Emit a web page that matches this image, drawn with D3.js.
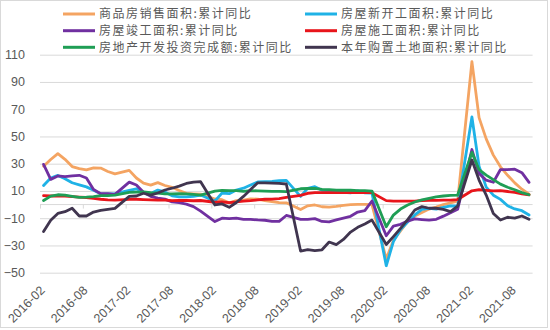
<!DOCTYPE html>
<html><head><meta charset="utf-8">
<script src="https://cdn.jsdelivr.net/npm/d3@7"></script>
<style>
html,body{margin:0;padding:0;background:#fff;}
svg{display:block;}
</style>
</head><body>
<svg id="chart" width="550" height="330"></svg>
<script>
// ---- Data (cumulative YoY %, Feb..Dec each year; January is merged into February) ----
const months = [
 "2016-02","2016-03","2016-04","2016-05","2016-06","2016-07","2016-08","2016-09","2016-10","2016-11","2016-12",
 "2017-02","2017-03","2017-04","2017-05","2017-06","2017-07","2017-08","2017-09","2017-10","2017-11","2017-12",
 "2018-02","2018-03","2018-04","2018-05","2018-06","2018-07","2018-08","2018-09","2018-10","2018-11","2018-12",
 "2019-02","2019-03","2019-04","2019-05","2019-06","2019-07","2019-08","2019-09","2019-10","2019-11","2019-12",
 "2020-02","2020-03","2020-04","2020-05","2020-06","2020-07","2020-08","2020-09","2020-10","2020-11","2020-12",
 "2021-02","2021-03","2021-04","2021-05","2021-06","2021-07","2021-08","2021-09","2021-10"
];
const tickLabels = ["2016-02","2016-08","2017-02","2017-08","2018-02","2018-08","2019-02","2019-08","2020-02","2020-08","2021-02","2021-08"];
const yTicks = [-50,-30,-10,10,30,50,70,90,110];

const seriesNames = ["商品房销售面积:累计同比","房屋新开工面积:累计同比","房屋竣工面积:累计同比","房屋施工面积:累计同比","房地产开发投资完成额:累计同比","本年购置土地面积:累计同比"];
const seriesColors = ["#F4A462","#1FB2E6","#7030A0","#E8151B","#1F9E55","#40354F"];

const salesArea = [28.2,33.1,37.4,33.2,27.9,26.4,25.5,26.9,26.8,24.3,22.5,
 25.1,19.5,15.7,14.3,16.1,14.0,12.7,10.3,8.2,7.9,7.7,
 4.1,3.6,1.3,2.9,3.3,4.2,4.0,2.9,2.2,1.4,1.3,
 -3.6,-0.9,-0.3,-1.6,-1.8,-1.3,-0.6,-0.1,0.1,0.2,-0.1,
 -39.9,-26.3,-19.3,-12.3,-8.4,-5.8,-3.3,-1.8,0.0,1.3,2.6,
 104.9,63.8,48.2,36.3,27.7,21.5,15.9,11.3,7.7];
const newStarts = [14.0,19.5,21.4,19.0,16.0,14.5,13.0,10.5,8.0,7.8,8.1,
 10.4,11.6,9.0,8.1,10.6,9.3,6.4,5.6,5.6,6.1,7.0,
 2.5,8.5,8.0,10.7,12.0,14.4,16.6,16.8,17.0,17.5,17.8,
 6.0,11.9,13.1,10.5,10.1,9.5,8.9,8.6,10.0,8.6,8.5,
 -44.9,-27.2,-18.4,-12.8,-7.6,-3.6,-2.8,-3.4,-2.1,-1.0,-1.2,
 64.3,28.2,12.8,6.9,3.8,-0.9,-3.2,-4.5,-7.7];
const completions = [29.5,18.5,21.0,20.5,21.0,21.5,19.5,11.0,8.0,8.0,7.5,
 16.5,14.4,9.0,6.0,4.8,4.0,2.0,1.4,0.3,-1.5,-4.8,
 -12.5,-10.0,-10.3,-10.0,-10.8,-10.8,-11.3,-11.5,-12.3,-12.3,-8.0,
 -10.8,-10.8,-10.3,-12.4,-12.7,-11.3,-10.0,-8.6,-5.5,-4.5,2.6,
 -22.9,-15.8,-14.5,-12.1,-10.5,-11.0,-11.4,-10.8,-8.5,-6.0,-3.5,
 40.4,22.9,17.9,16.4,25.7,25.7,26.0,23.4,16.3];
const underConstruction = [6.6,6.3,6.4,6.2,5.9,5.5,5.2,4.6,3.9,3.4,3.2,
 3.8,3.9,3.7,3.5,3.3,3.2,2.9,3.1,3.0,2.8,3.0,
 1.7,1.9,1.4,1.9,2.6,2.9,3.4,3.9,4.0,4.4,5.2,
 6.8,8.2,8.8,8.8,8.8,8.8,8.8,8.7,9.0,8.7,8.7,
 2.9,2.6,2.5,2.6,2.6,3.0,3.1,3.1,3.2,3.2,3.7,
 10.1,11.0,10.5,10.1,10.2,9.6,8.9,7.9,7.1];
const investment = [3.0,6.2,7.2,7.0,6.1,5.3,5.4,5.8,6.6,6.5,6.9,
 8.9,9.1,9.3,8.8,8.5,7.9,7.9,8.1,7.8,7.5,7.0,
 9.9,10.4,10.3,10.2,9.7,10.2,10.1,9.9,9.7,9.7,9.5,
 11.6,11.8,11.9,11.2,10.9,10.6,10.5,10.5,10.3,10.2,9.9,
 -16.3,-7.7,-3.3,-0.3,1.9,3.4,4.6,5.6,6.3,6.8,7.0,
 38.3,25.6,21.6,18.3,15.0,12.7,10.9,8.8,7.2];
const landPurchase = [-19.8,-11.5,-6.5,-5.2,-2.7,-8.4,-8.4,-5.5,-4.2,-3.5,-2.8,
 6.0,6.3,8.3,7.0,8.5,10.7,12.0,13.5,15.5,16.5,16.8,
 -0.3,0.5,-2.0,1.5,6.0,11.0,16.0,16.0,15.8,15.6,15.1,
 -34.1,-33.1,-33.8,-33.2,-27.5,-29.4,-25.6,-20.2,-16.7,-14.2,-11.4,
 -29.3,-23.5,-17.5,-11.0,-4.0,-1.5,-2.7,-2.7,-3.5,-5.2,-1.1,
 32.7,18.0,7.0,-6.5,-11.3,-9.3,-10.0,-8.4,-10.8];

const seriesValues = [salesArea,newStarts,completions,underConstruction,investment,landPurchase];

// ---- Layout ----
const svg = d3.select("#chart");
const plotLeft = 40, plotRight = 532.6, plotTop = 54.7, plotBottom = 272.7;
const monthIndex = s => { const [yy,mm] = s.split("-").map(Number); return (yy-2016)*12 + (mm-2); };
const x = d3.scaleLinear().domain([0,69]).range([plotLeft,plotRight]);
const y = d3.scaleLinear().domain([-50,110]).range([plotBottom,plotTop]);
const textColor = "#595959";
const gridColor = "#d9d9d9";

// border
svg.append("rect").attr("x",0.5).attr("y",0.5).attr("width",547).attr("height",327)
  .attr("fill","none").attr("stroke",gridColor);

// gridlines + y labels
const yAxis = d3.axisLeft(y).tickValues(yTicks).tickSize(-(plotRight-plotLeft)).tickPadding(15).tickFormat(d3.format("d"));
const gy = svg.append("g").attr("transform",`translate(${plotLeft},0)`).call(yAxis);
gy.select(".domain").remove();
gy.selectAll(".tick line").attr("stroke",gridColor).attr("stroke-width",1);
gy.selectAll(".tick text").attr("fill",textColor).style("font-family","'Liberation Sans',Arial,sans-serif").style("font-size","12.5px");

// x axis at 0
const xAxis = d3.axisBottom(x).tickValues(tickLabels.map(monthIndex)).tickSize(4).tickFormat("");
const gx = svg.append("g").attr("transform",`translate(0,${y(0)})`).call(xAxis);
gx.select(".domain").attr("stroke",gridColor).attr("d",`M${plotLeft},0H${plotRight}`);
gx.selectAll(".tick line").attr("stroke",gridColor);

// x labels (rotated)
svg.append("g").selectAll("text").data(tickLabels).join("text")
  .attr("transform", d => `translate(${x(monthIndex(d)+0.5)+2},291) rotate(-45)`)
  .attr("text-anchor","end")
  .attr("fill",textColor)
  .style("font-family","'Liberation Sans',Arial,sans-serif").style("font-size","12.5px")
  .text(d => d);

// lines
const line = d3.line().x(d => x(monthIndex(d.m)+0.5)).y(d => y(d.v));
seriesValues.forEach((vals,k) => {
  const pts = months.map((m,i) => ({m, v: vals[i]}));
  svg.append("path").datum(pts).attr("d",line)
    .attr("fill","none").attr("stroke",seriesColors[k]).attr("stroke-width",2.8)
    .attr("stroke-linejoin","round").attr("stroke-linecap","round");
});

// legend
const legendPos = [[63,14],[305,14],[63,30.7],[305,30.7],[63,47.3],[305,47.3]];
seriesNames.forEach((name,k) => {
  const [lx,ly] = legendPos[k];
  svg.append("line").attr("x1",lx).attr("x2",lx+32).attr("y1",ly).attr("y2",ly)
    .attr("stroke",seriesColors[k]).attr("stroke-width",3);
  svg.append("text").attr("x",lx+36).attr("y",ly).attr("dy","0.36em")
    .attr("fill",textColor)
    .style("font-family","'Noto Sans CJK SC',sans-serif").style("font-size","12px")
    .style("letter-spacing","1.5px")
    .text(name);
});
</script>
</body></html>
